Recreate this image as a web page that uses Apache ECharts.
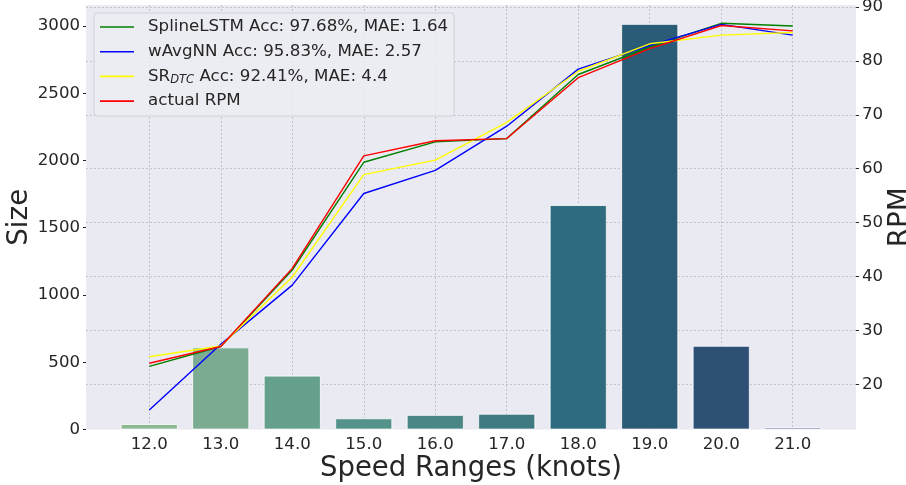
<!DOCTYPE html>
<html>
<head>
<meta charset="utf-8">
<script src="https://cdn.jsdelivr.net/npm/echarts@6/dist/echarts.min.js"></script>
<style>
  html, body { margin: 0; padding: 0; background: #fff; }
  #chart { width: 906px; height: 485px; }
</style>
</head>
<body>
<div id="chart"></div>
<script>
// Speed bins (knots) and number of samples per bin
const speedRanges = ['12.0', '13.0', '14.0', '15.0', '16.0', '17.0', '18.0', '19.0', '20.0', '21.0'];
const sizeCounts = [40, 610, 400, 83, 108, 117, 1668, 3015, 622, 15];

// Mean RPM per speed bin, predicted by each model and measured
const splineLstm = [23.3, 27.0, 41.2, 61.2, 65.0, 65.6, 77.5, 82.6, 87.0, 86.5];
const wAvgNN     = [15.2, 27.4, 38.4, 55.4, 59.7, 67.9, 78.5, 82.9, 86.8, 84.8];
const srDtc      = [25.1, 27.1, 39.9, 58.9, 61.6, 68.6, 78.1, 83.2, 84.8, 85.3];
const actualRpm  = [23.9, 27.0, 41.5, 62.4, 65.2, 65.6, 76.9, 82.3, 86.6, 85.6];

// Axis tick labels
const sizeTicks = [0, 500, 1000, 1500, 2000, 2500, 3000];
const rpmTicks = [20, 30, 40, 50, 60, 70, 80, 90];

// Legend entries
const seriesNames = [
  'SplineLSTM Acc: 97.68%, MAE: 1.64',
  'wAvgNN Acc: 95.83%, MAE: 2.57',
  'SR_DTC Acc: 92.41%, MAE: 4.4',
  'actual RPM'
];

// Bar fill colours, light green to dark blue
const barColors = ['#8cb894', '#7bac92', '#65a08d', '#55928a', '#4a8686', '#3f7a82',
                   '#2f6b7e', '#2b5c77', '#2e5075', '#4a5c8a'];
const lineColors = ['#008000', '#0000ff', '#ffff00', '#ff0000'];

const textColor = '#262626';
const gridColor = '#c2c2ca';
const positions = speedRanges.map((_, i) => i);
const toPoints = arr => arr.map((v, i) => [i, v]);

const chart = echarts.init(document.getElementById('chart'), null, { renderer: 'canvas' });

const lineData = [splineLstm, wAvgNN, srDtc, actualRpm];

const option = {
  animation: false,
  backgroundColor: '#ffffff',
  textStyle: { fontFamily: 'DejaVu Sans' },
  grid: {
    left: 86, right: 50, top: 5, bottom: 55.5,
    outerBoundsMode: 'none',
    containLabel: false,
    show: true, backgroundColor: '#eaeaf2', borderWidth: 0
  },
  xAxis: {
    type: 'value',
    min: -0.885, max: 9.885,
    axisLine: { show: false, onZero: false },
    axisTick: { show: false, customValues: positions },
    axisLabel: {
      customValues: positions,
      formatter: v => speedRanges[Math.round(v)],
      fontSize: 16.6, color: textColor, margin: 7
    },
    splitLine: { show: true, lineStyle: { color: gridColor, type: [2, 2], width: 1 } },
    name: 'Speed Ranges (knots)',
    nameLocation: 'middle',
    nameGap: 25,
    nameMoveOverlap: false,
    nameTextStyle: { fontSize: 27.5, color: textColor }
  },
  yAxis: [
    {
      type: 'value', position: 'left',
      min: 0, max: 3156,
      axisLine: { show: false, onZero: false },
      axisTick: { show: true, length: 3, customValues: sizeTicks, lineStyle: { color: textColor, width: 1 } },
      axisLabel: { customValues: sizeTicks, formatter: v => String(v), fontSize: 16.6, color: textColor, margin: 6 },
      splitLine: { show: false },
      name: 'Size', nameLocation: 'middle', nameRotate: 90, nameGap: 52,
      nameMoveOverlap: false,
      nameTextStyle: { fontSize: 27.8, color: textColor }
    },
    {
      type: 'value', position: 'right',
      min: 11.59, max: 90.4,
      axisLine: { show: false, onZero: false },
      axisTick: { show: true, length: 3, customValues: rpmTicks, lineStyle: { color: textColor, width: 1 } },
      axisLabel: { customValues: rpmTicks, formatter: v => String(v), fontSize: 16.6, color: textColor, margin: 6 },
      splitLine: { show: true, lineStyle: { color: gridColor, type: [2, 2], width: 1 } },
      name: 'RPM', nameLocation: 'middle', nameRotate: 90, nameGap: 31,
      nameMoveOverlap: false,
      nameTextStyle: { fontSize: 27.8, color: textColor }
    }
  ],
  legend: {
    orient: 'vertical',
    left: 94, top: 13,
    data: seriesNames,
    icon: 'rect',
    itemWidth: 34, itemHeight: 1.6, itemGap: 4.7,
    padding: [4, 6, 5, 6],
    backgroundColor: 'rgba(236,236,243,0.85)',
    borderColor: '#cfcfd6', borderWidth: 1, borderRadius: 3,
    formatter: name => {
      if (name.startsWith('SR_DTC')) {
        return '{m|SR}{sub|DTC}{m|' + name.slice(6) + '}';
      }
      return name;
    },
    textStyle: {
      fontSize: 16.7, color: textColor, lineHeight: 20, padding: [0, 0, 0, 9],
      rich: {
        m: { fontSize: 16.7, color: textColor, lineHeight: 20 },
        sub: { fontSize: 11.5, fontStyle: 'italic', color: textColor, lineHeight: 12, padding: [8, 0, 0, 0] }
      }
    }
  },
  series: [
    {
      name: 'Size', type: 'bar',
      xAxisIndex: 0, yAxisIndex: 0,
      barWidth: 57,
      data: sizeCounts.map((v, i) => ({
        value: [i, v],
        itemStyle: { color: barColors[i] }
      })),
      itemStyle: { borderColor: '#ffffff', borderWidth: 0.8 },
      z: 1
    },
    ...lineData.map((arr, k) => ({
      name: seriesNames[k],
      type: 'line',
      xAxisIndex: 0, yAxisIndex: 1,
      data: toPoints(arr),
      symbol: 'none',
      lineStyle: { color: lineColors[k], width: 1.4 },
      itemStyle: { color: lineColors[k] },
      z: 3 + k
    }))
  ]
};

chart.setOption(option);
</script>
</body>
</html>
